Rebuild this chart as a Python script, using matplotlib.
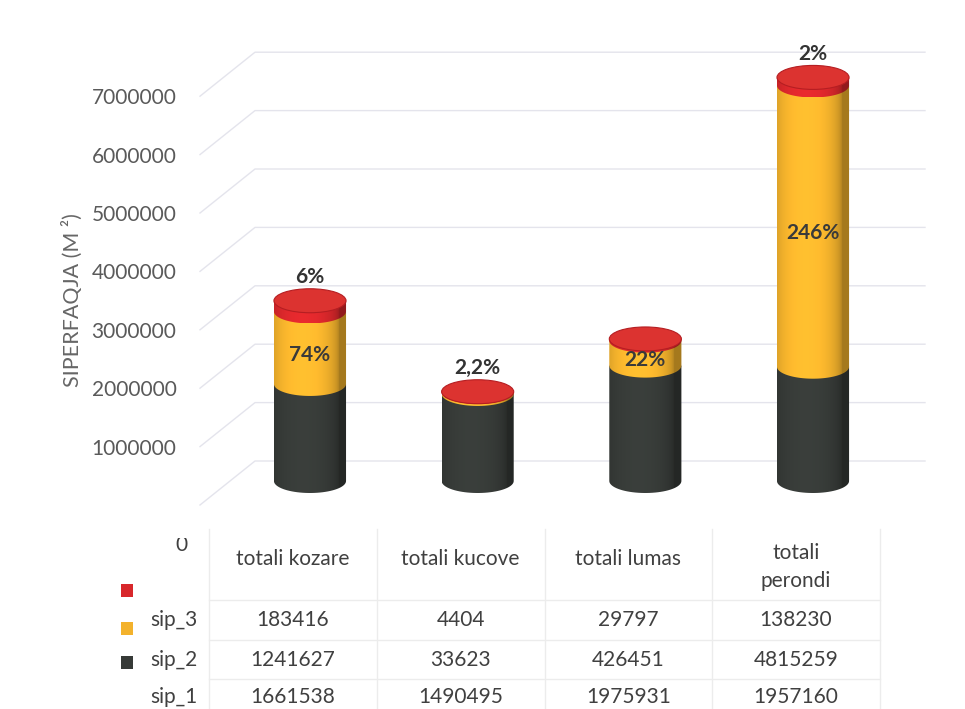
import numpy as np
import matplotlib.pyplot as plt
import matplotlib.transforms as mtransforms
from matplotlib.patches import Ellipse, PathPatch, Rectangle
from matplotlib.path import Path
from matplotlib.lines import Line2D
from matplotlib.colors import to_rgb

plt.rcParams['font.family'] = ['Lato', 'DejaVu Sans']

categories = ['totali kozare', 'totali kucove', 'totali lumas', 'totali\nperondi']
sip_1 = [1661538, 1490495, 1975931, 1957160]
sip_2 = [1241627, 33623, 426451, 4815259]
sip_3 = [183416, 4404, 29797, 138230]
top_labels = ['6%', '2,2%', '', '2%']
mid_labels = ['74%', '', '22%', '246%']
yticks = [1000000, 2000000, 3000000, 4000000, 5000000, 6000000, 7000000]
grid_values = [0] + yticks
table_rows = [('sip_3', sip_3), ('sip_2', sip_2), ('sip_1', sip_1)]

col_dark = '#363a37'
col_yellow = '#f3b22c'
col_red = '#d8272b'

W, H = 965, 709
fig = plt.figure(figsize=(W / 100, H / 100), dpi=100)
fig.patch.set_facecolor('white')

ax = fig.add_axes([200 / W, (H - 505) / H, 725 / W, 475 / H])
ax.patch.set_visible(False)
xlim = (-110 / 167.7, 3 + 112 / 167.7)
ylim = (0, 475 / 58.4 * 1e6)
ax.set_xlim(xlim)
ax.set_ylim(ylim)
for s in ax.spines.values():
    s.set_visible(False)
ax.set_xticks([])
ax.set_yticks(yticks)
ax.set_yticklabels([str(v) for v in yticks])
ax.tick_params(axis='y', length=0, pad=17, labelsize=15, labelcolor='#5a5a5a')

# back wall / side wall gridlines (3D look)
for v in grid_values:
    fx, fy = ax.transData.transform((xlim[0], v))
    bx, by = fx + 55, fy + 44
    ex, _ = ax.transAxes.transform((1, 0))
    ax.add_line(Line2D([fx, bx, ex], [fy, by, by], transform=mtransforms.IdentityTransform(),
                       color='#e4e4ec', lw=1.0, zorder=1, clip_on=False))

trans_bar = mtransforms.offset_copy(ax.transData, fig=fig, x=0, y=24, units='dots')
w = 0.43
eh = 24 / 58.4 * 1e6


def shaded(color, n=64):
    u = np.linspace(-1, 1, n)
    f = 0.68 + 0.4 * np.sqrt(np.clip(1 - (u + 0.2) ** 2, 0, 1))
    rgb = np.array(to_rgb(color))
    img = np.clip(rgb[None, :] * f[:, None], 0, 1)
    return np.repeat(img[None, :, :], 2, axis=0)


def segment_path(x, y0, y1):
    t = np.linspace(np.pi, 2 * np.pi, 40)
    arc = np.column_stack([x + w / 2 * np.cos(t), y0 + eh / 2 * np.sin(t)])
    verts = np.vstack([[[x - w / 2, y1]], arc, [[x + w / 2, y1]], [[x - w / 2, y1]]])
    codes = [Path.MOVETO] + [Path.LINETO] * (len(verts) - 2) + [Path.CLOSEPOLY]
    return Path(verts, codes)


z = 3
for i in range(len(categories)):
    vals = [sip_1[i], sip_2[i], sip_3[i]]
    cols = [col_dark, col_yellow, col_red]
    bottom = 0
    for v, c in zip(vals, cols):
        top = bottom + v
        patch = PathPatch(segment_path(i, bottom, top), transform=trans_bar,
                          fc='none', ec='none')
        ax.add_patch(patch)
        im = ax.imshow(shaded(c), extent=(i - w / 2, i + w / 2, bottom - eh / 2, top),
                       transform=trans_bar, aspect='auto', interpolation='bilinear', zorder=z)
        im.set_clip_path(patch)
        z += 0.01
        bottom = top
    ax.add_patch(Ellipse((i, bottom), w, eh, transform=trans_bar, fc='#dc3330',
                         ec='#b51e22', lw=0.8, zorder=z))
    z += 0.01
    if top_labels[i]:
        ax.annotate(top_labels[i], (i, bottom), xycoords=trans_bar, xytext=(0, 17),
                    textcoords='offset points', ha='center', va='center',
                    fontsize=15, fontweight='bold', color='#333333', zorder=10)
    if mid_labels[i]:
        ax.annotate(mid_labels[i], (i, sip_1[i] + sip_2[i] / 2), xycoords=trans_bar,
                    xytext=(0, -5), textcoords='offset points', ha='center', va='center',
                    fontsize=15, fontweight='bold', color='#3a3a3a', zorder=10)

ax.set_xlim(xlim)
ax.set_ylim(ylim)

fig.text(72 / W, (H - 300) / H, 'SIPERFAQJA (M ²)', rotation=90, ha='center', va='center',
         fontsize=15.5, color='#666666')

# data table
tax = fig.add_axes([(200 - 17) / W, 0, 725 / W, 189 / H])
tax.set_xlim(xlim)
tax.set_ylim(0, 1)
tax.axis('off')
row_y = [(H - 620) / 189, (H - 660) / 189, (H - 697) / 189]
for i, name in enumerate(categories):
    hy = 0.751 if '\n' in name else 0.794
    tax.text(i, hy, name, ha='center', va='center', fontsize=15, color='#404040',
             linespacing=1.45)
    for (label, vals), ry in zip(table_rows, row_y):
        tax.text(i, ry, str(vals[i]), ha='center', va='center', fontsize=15, color='#404040')
for k in range(len(categories) + 1):
    tax.plot([k - 0.5, k - 0.5], [0, 0.95], color='#ececec', lw=1)
for hy in [0.577, 0.365, 0.159]:
    tax.plot([-0.5, len(categories) - 0.5], [hy, hy], color='#ececec', lw=1)

for (label, vals), py in zip(table_rows, [620, 660, 697]):
    fig.text(150 / W, (H - py) / H, label, ha='left', va='center', fontsize=15, color='#404040')

for c, py in [(col_red, 591), (col_yellow, 629), (col_dark, 663)]:
    fig.add_artist(Rectangle((121 / W, (H - py - 6) / H), 12 / W, 13 / H, transform=fig.transFigure,
                             fc=c, ec='none'))

zero = fig.text(181 / W, (H - 545) / H, '0', ha='center', va='center', fontsize=15, color='#404040')
zero.set_clip_box(mtransforms.Bbox([[160, 0], [200, H - 538]]))
zero.set_clip_on(True)

fig.savefig('out.png', dpi=100, facecolor='white')
